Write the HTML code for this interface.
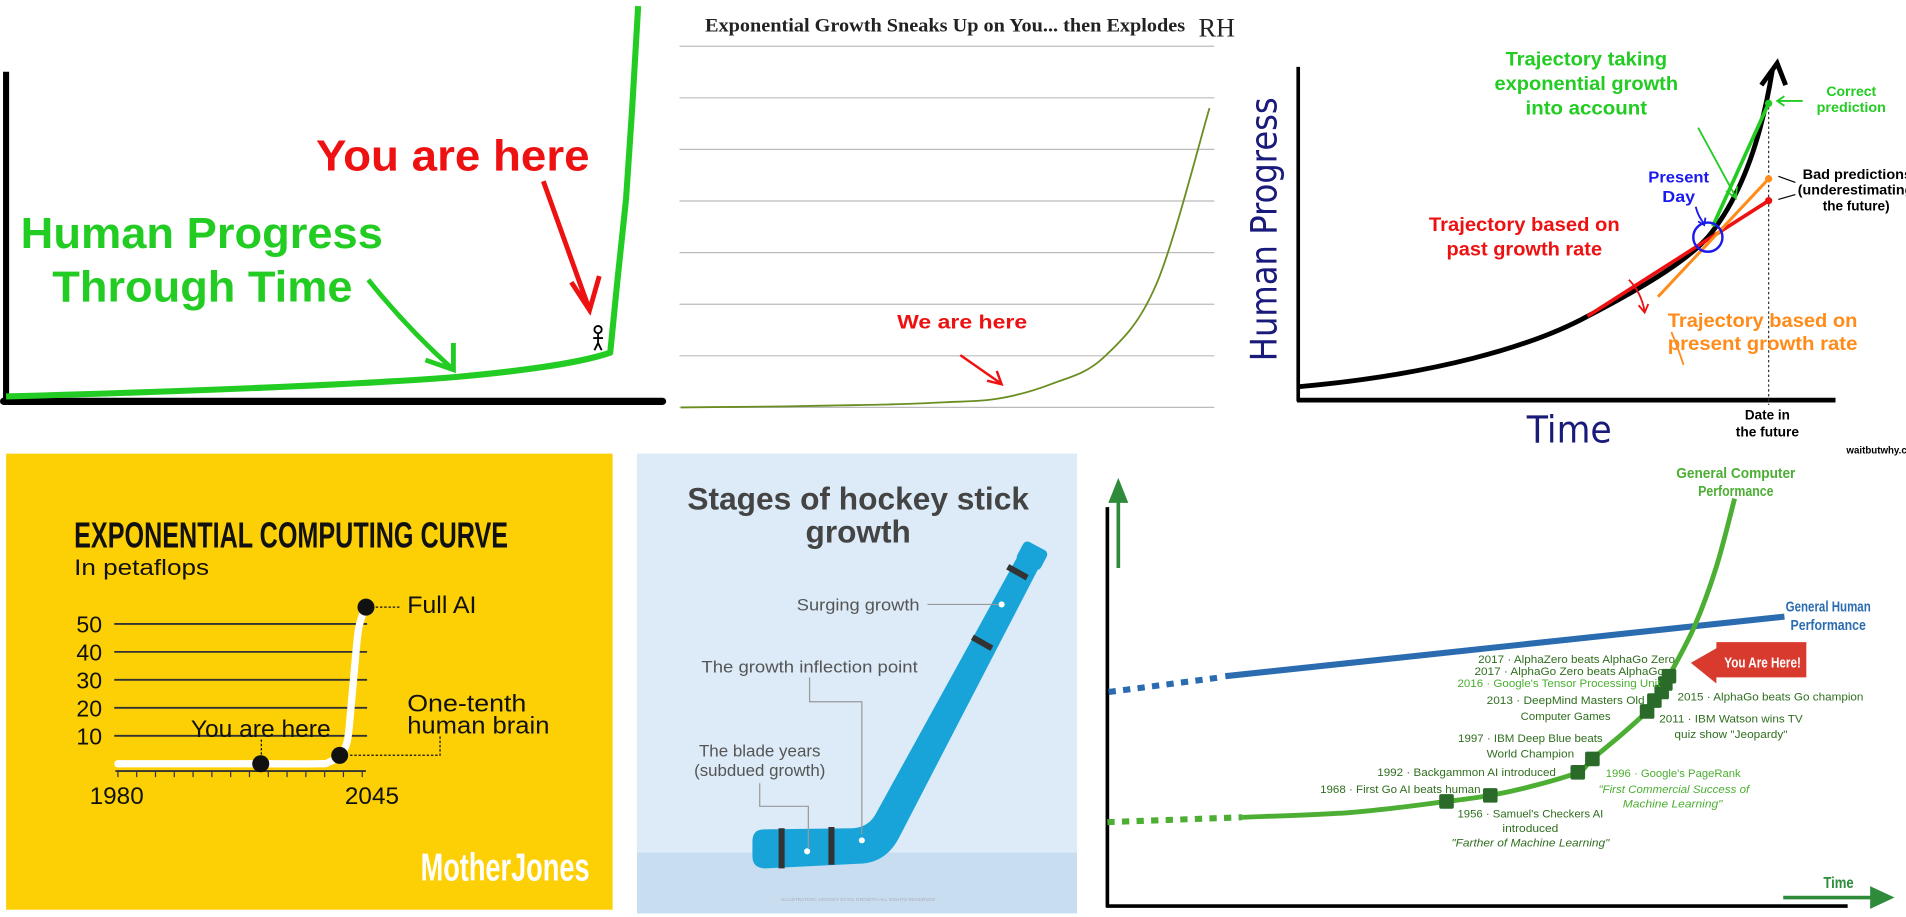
<!DOCTYPE html>
<html><head><meta charset="utf-8"><style>
html,body{margin:0;padding:0;background:#fff;width:1906px;height:917px;overflow:hidden}
svg{display:block;font-family:"Liberation Sans",sans-serif}
</style></head><body>
<svg id="main" width="1906" height="917" viewBox="0 0 1568 754" preserveAspectRatio="none" xmlns="http://www.w3.org/2000/svg">
<!-- Panel 1 -->
<g>
<line x1="5" y1="59" x2="5" y2="331" stroke="#000" stroke-width="5"/>
<line x1="3" y1="330" x2="545" y2="330" stroke="#000" stroke-width="6" stroke-linecap="round"/>
<path d="M5,326 C150,322 300,316 375,310 C430,305 475,299 502,290 L508,230 L515,164 L520,90 L525,5" fill="none" stroke="#22cc22" stroke-width="5" stroke-linejoin="round"/>
<text x="260" y="140" fill="#ee1111" font-size="36" font-weight="bold" textLength="225" lengthAdjust="spacingAndGlyphs">You are here</text>
<path d="M447,149 L485,255 M470,232 L485,255 L493,227" fill="none" stroke="#ee1111" stroke-width="4"/>
<text x="17" y="204" fill="#22cc22" font-size="36" font-weight="bold" textLength="298" lengthAdjust="spacingAndGlyphs">Human Progress</text>
<text x="43" y="248" fill="#22cc22" font-size="36" font-weight="bold" textLength="247" lengthAdjust="spacingAndGlyphs">Through Time</text>
<path d="M303,230 Q335,270 373,304 M350,296 L373,304 L373,282" fill="none" stroke="#22cc22" stroke-width="4"/>
<g stroke="#000" stroke-width="1.5" fill="none"><circle cx="492" cy="271" r="3"/><path d="M492,274 L492,282 M488,278 L496,278 M492,282 L489,288 M492,282 L495,288"/></g>
</g>
<!-- Panel 2 -->
<g>
<text x="580" y="26" font-family="Liberation Serif,serif" font-size="16" font-weight="bold" fill="#222" textLength="395" lengthAdjust="spacingAndGlyphs">Exponential Growth Sneaks Up on You... then Explodes</text>
<text x="986" y="30" font-family="Liberation Serif,serif" font-size="22" fill="#222" textLength="30" lengthAdjust="spacingAndGlyphs">RH</text>
<g id="p2grid"></g>
<path id="p2curve" fill="none" stroke="#6b8e23" stroke-width="1.5"/>
<text x="738" y="270" fill="#ee1111" font-size="16" font-weight="bold" textLength="107" lengthAdjust="spacingAndGlyphs">We are here</text>
<path d="M790,292 L823,315 M812,313 L824,316 L820,305" fill="none" stroke="#ee1111" stroke-width="2"/>
</g>
<!-- Panel 3 -->
<g>
<line x1="1068" y1="55" x2="1068" y2="330" stroke="#000" stroke-width="3"/>
<line x1="1067" y1="329" x2="1510" y2="329" stroke="#000" stroke-width="4"/>
<text transform="translate(1050,297) rotate(-90)" fill="#1a1a7a" font-family="DejaVu Sans,sans-serif" font-size="30" textLength="217" lengthAdjust="spacingAndGlyphs">Human Progress</text>
<text x="1256" y="364" fill="#1a1a7a" font-family="DejaVu Sans,sans-serif" font-size="31" textLength="70" lengthAdjust="spacingAndGlyphs">Time</text>
<line x1="1455" y1="88" x2="1455" y2="333" stroke="#333" stroke-width="1" stroke-dasharray="2,2"/>
<path d="M1068,318 C1180,308 1260,285 1306,260 C1360,232 1390,212 1405,195 C1430,165 1448,120 1458,58" fill="none" stroke="#000" stroke-width="4"/>
<path d="M1449,70 L1462,52 L1469,70" fill="none" stroke="#000" stroke-width="4"/>
<line x1="1409" y1="186" x2="1455" y2="85" stroke="#22cc22" stroke-width="3"/>
<line x1="1306" y1="260" x2="1455" y2="165" stroke="#ee1111" stroke-width="3"/>
<line x1="1364" y1="244" x2="1455" y2="147" stroke="#ff8c1a" stroke-width="2.5"/>
<circle cx="1405" cy="195" r="12" fill="none" stroke="#1a1aee" stroke-width="2"/>
<circle cx="1455" cy="85" r="3" fill="#22cc22"/>
<circle cx="1455" cy="147" r="3" fill="#ff8c1a"/>
<circle cx="1455" cy="165" r="3" fill="#ee1111"/>
<g font-weight="bold" text-anchor="middle">
<text x="1305" y="54" fill="#22cc22" font-size="16" textLength="133" lengthAdjust="spacingAndGlyphs">Trajectory taking</text>
<text x="1305" y="74" fill="#22cc22" font-size="16" textLength="151" lengthAdjust="spacingAndGlyphs">exponential growth</text>
<text x="1305" y="94" fill="#22cc22" font-size="16" textLength="100" lengthAdjust="spacingAndGlyphs">into account</text>
<text x="1523" y="79" fill="#22cc22" font-size="11" textLength="41" lengthAdjust="spacingAndGlyphs">Correct</text>
<text x="1523" y="92" fill="#22cc22" font-size="11" textLength="57" lengthAdjust="spacingAndGlyphs">prediction</text>
<text x="1381" y="150" fill="#1a1aee" font-size="13" textLength="50" lengthAdjust="spacingAndGlyphs">Present</text>
<text x="1381" y="166" fill="#1a1aee" font-size="13" textLength="27" lengthAdjust="spacingAndGlyphs">Day</text>
<text x="1483" y="147" text-anchor="start" fill="#000" font-size="11" textLength="90" lengthAdjust="spacingAndGlyphs">Bad predictions</text>
<text x="1479" y="160" text-anchor="start" fill="#000" font-size="11" textLength="95" lengthAdjust="spacingAndGlyphs">(underestimating</text>
<text x="1527" y="173" fill="#000" font-size="11" textLength="55" lengthAdjust="spacingAndGlyphs">the future)</text>
<text x="1254" y="190" fill="#ee1111" font-size="16" textLength="157" lengthAdjust="spacingAndGlyphs">Trajectory based on</text>
<text x="1254" y="210" fill="#ee1111" font-size="16" textLength="128" lengthAdjust="spacingAndGlyphs">past growth rate</text>
<text x="1450" y="269" fill="#ff8c1a" font-size="16" textLength="156" lengthAdjust="spacingAndGlyphs">Trajectory based on</text>
<text x="1450" y="288" fill="#ff8c1a" font-size="16" textLength="156" lengthAdjust="spacingAndGlyphs">present growth rate</text>
<text x="1454" y="345" fill="#000" font-size="11" textLength="37" lengthAdjust="spacingAndGlyphs">Date in</text>
<text x="1454" y="359" fill="#000" font-size="11" textLength="52" lengthAdjust="spacingAndGlyphs">the future</text>
<text x="1519" y="373" text-anchor="start" fill="#000" font-size="8">waitbutwhy.com</text>
</g>
<path d="M1397,105 L1428,162 M1420,157 L1428,163 L1429,153" fill="none" stroke="#22cc22" stroke-width="1.5"/>
<path d="M1483,83 L1463,83 M1468,79 L1462,83 L1468,87" fill="none" stroke="#22cc22" stroke-width="1.5"/>
<path d="M1395,170 Q1397,178 1402,184 M1397,182 L1402,185 L1403,179" fill="none" stroke="#1a1aee" stroke-width="1.5"/>
<path d="M1340,230 Q1350,240 1353,256 M1348,251 L1353,257 L1356,250" fill="none" stroke="#ee1111" stroke-width="1.5"/>
<path d="M1385,300 Q1380,285 1375,273" fill="none" stroke="#ff8c1a" stroke-width="1.5"/>
<path d="M1477,150 L1463,145 M1477,160 L1463,164" stroke="#000" stroke-width="1"/>
</g>
<!-- Panel 4 -->
<g>
<rect x="5" y="373" width="499" height="375" fill="#fdd005"/>
<text x="61" y="450" font-size="30" font-weight="bold" fill="#111" textLength="357" lengthAdjust="spacingAndGlyphs">EXPONENTIAL COMPUTING CURVE</text>
<text x="61" y="473" font-size="18" fill="#111" textLength="111" lengthAdjust="spacingAndGlyphs">In petaflops</text>
<g id="p4"></g>
<text x="335" y="504" font-size="20" fill="#111" textLength="57" lengthAdjust="spacingAndGlyphs">Full AI</text>
<text x="335" y="585" font-size="20" fill="#111" textLength="98" lengthAdjust="spacingAndGlyphs">One-tenth</text>
<text x="335" y="603" font-size="20" fill="#111" textLength="117" lengthAdjust="spacingAndGlyphs">human brain</text>
<text x="157" y="606" font-size="20" fill="#111" textLength="115" lengthAdjust="spacingAndGlyphs">You are here</text>
<text x="346" y="724" font-size="32" font-weight="bold" fill="#fff" textLength="139" lengthAdjust="spacingAndGlyphs">MotherJones</text>
</g>
<!-- Panel 5 -->
<g>
<rect x="524" y="373" width="362" height="378" fill="#dcebf7"/>
<rect x="524" y="701" width="362" height="50" fill="#c8def0"/>
<text x="706" y="419" text-anchor="middle" font-size="26" font-weight="bold" fill="#444" textLength="281" lengthAdjust="spacingAndGlyphs">Stages of hockey stick</text>
<text x="706" y="446" text-anchor="middle" font-size="26" font-weight="bold" fill="#444">growth</text>
<g fill="#18a4d8">
<path d="M628,682 L702,681 Q714,680 720,670 L838,456 L855,466 L740,688 Q730,708 710,710 L630,714 Q619,714 619,704 L619,692 Q619,682 628,682 Z"/>
<rect x="838" y="448" width="22" height="18" rx="4" transform="rotate(28 849 457)"/>
</g>
<path d="M829,466 L845,475 M800,524 L816,533 M643,681 L643,714 M684,680 L684,711" stroke="#333" stroke-width="5"/>
<circle cx="824" cy="497" r="2.5" fill="#fff"/><circle cx="709" cy="691" r="2.5" fill="#fff"/><circle cx="664" cy="700" r="2.5" fill="#fff"/>
<g font-size="14" fill="#555" text-anchor="middle">
<text x="706" y="502" textLength="101" lengthAdjust="spacingAndGlyphs">Surging growth</text>
<text x="666" y="553" textLength="178" lengthAdjust="spacingAndGlyphs">The growth inflection point</text>
<text x="625" y="622" textLength="100" lengthAdjust="spacingAndGlyphs">The blade years</text>
<text x="625" y="638" textLength="108" lengthAdjust="spacingAndGlyphs">(subdued growth)</text>
</g>
<path d="M763,497 L821,497 M666,557 L666,577 L709,577 L709,686 M625,644 L625,663 L665,663 L665,697" fill="none" stroke="#999" stroke-width="1"/>
<text x="706" y="741" text-anchor="middle" font-size="4" fill="#aab">ILLUSTRATION: HOCKEY STICK GROWTH ALL RIGHTS RESERVED</text>
</g>
<!-- Panel 6 -->
<g>
<line x1="911" y1="417" x2="911" y2="746" stroke="#000" stroke-width="3"/>
<line x1="910" y1="745" x2="1520" y2="745" stroke="#000" stroke-width="3"/>
<path d="M920,467 L920,410 M914,412 L920,397 L926,412 Z" stroke="#2e8b3a" stroke-width="3" fill="#2e8b3a"/>
<path d="M1467,738 L1543,738 M1540,731 L1555,738 L1540,745 Z" stroke="#2e8b3a" stroke-width="3" fill="#2e8b3a"/>
<text x="1500" y="730" font-size="13" font-weight="bold" fill="#2e8b3a" textLength="25" lengthAdjust="spacingAndGlyphs">Time</text>
<line x1="912" y1="569" x2="1004" y2="557" stroke="#2b6cb0" stroke-width="5" stroke-dasharray="6,6"/>
<line x1="1008" y1="556" x2="1468" y2="507" stroke="#2b6cb0" stroke-width="5"/>
<text x="1504" y="503" text-anchor="middle" font-size="12" font-weight="bold" fill="#2b6cb0" textLength="70" lengthAdjust="spacingAndGlyphs">General Human</text>
<text x="1504" y="518" text-anchor="middle" font-size="12" font-weight="bold" fill="#2b6cb0" textLength="62" lengthAdjust="spacingAndGlyphs">Performance</text>
<path id="p6dots" fill="none" stroke="#4cae32" stroke-width="5" stroke-dasharray="6,6"/>
<path id="p6curve" fill="none" stroke="#4cae32" stroke-width="4"/>
<text x="1428" y="393" text-anchor="middle" font-size="12" font-weight="bold" fill="#4cae32" textLength="98" lengthAdjust="spacingAndGlyphs">General Computer</text>
<text x="1428" y="408" text-anchor="middle" font-size="12" font-weight="bold" fill="#4cae32" textLength="62" lengthAdjust="spacingAndGlyphs">Performance</text>
<g id="p6marks"></g>
<path d="M1412,533 L1412,528 L1486,528 L1486,557 L1412,557 L1412,562 L1391,545 Z" fill="#d93a2e"/>
<text x="1450" y="549" text-anchor="middle" font-size="12" font-weight="bold" fill="#fff" textLength="63" lengthAdjust="spacingAndGlyphs">You Are Here!</text>
<g font-size="9" fill="#2f6e1f">
<text x="1216" y="545" textLength="162" lengthAdjust="spacingAndGlyphs">2017 · AlphaZero beats AlphaGo Zero</text>
<text x="1213" y="555" textLength="156" lengthAdjust="spacingAndGlyphs">2017 · AlphaGo Zero beats AlphaGo</text>
<text x="1199" y="565" fill="#4cae32" textLength="167" lengthAdjust="spacingAndGlyphs">2016 · Google's Tensor Processing Unit</text>
<text x="1223" y="579" textLength="130" lengthAdjust="spacingAndGlyphs">2013 · DeepMind Masters Old</text>
<text x="1288" y="592" text-anchor="middle" textLength="74" lengthAdjust="spacingAndGlyphs">Computer Games</text>
<text x="1380" y="576" textLength="153" lengthAdjust="spacingAndGlyphs">2015 · AlphaGo beats Go champion</text>
<text x="1365" y="594" textLength="118" lengthAdjust="spacingAndGlyphs">2011 · IBM Watson wins TV</text>
<text x="1424" y="607" text-anchor="middle" textLength="93" lengthAdjust="spacingAndGlyphs">quiz show "Jeopardy"</text>
<text x="1259" y="610" text-anchor="middle" textLength="119" lengthAdjust="spacingAndGlyphs">1997 · IBM Deep Blue beats</text>
<text x="1259" y="623" text-anchor="middle" textLength="72" lengthAdjust="spacingAndGlyphs">World Champion</text>
<text x="1133" y="638" textLength="147" lengthAdjust="spacingAndGlyphs">1992 · Backgammon AI introduced</text>
<text x="1321" y="639" fill="#4cae32" textLength="111" lengthAdjust="spacingAndGlyphs">1996 · Google's PageRank</text>
<text x="1377" y="652" text-anchor="middle" fill="#4cae32" font-style="italic" textLength="124" lengthAdjust="spacingAndGlyphs">"First Commercial Success of</text>
<text x="1376" y="664" text-anchor="middle" fill="#4cae32" font-style="italic" textLength="82" lengthAdjust="spacingAndGlyphs">Machine Learning"</text>
<text x="1086" y="652" textLength="132" lengthAdjust="spacingAndGlyphs">1968 · First Go AI beats human</text>
<text x="1259" y="672" text-anchor="middle" textLength="120" lengthAdjust="spacingAndGlyphs">1956 · Samuel's Checkers AI</text>
<text x="1259" y="684" text-anchor="middle" textLength="46" lengthAdjust="spacingAndGlyphs">introduced</text>
<text x="1259" y="696" text-anchor="middle" font-style="italic" textLength="130" lengthAdjust="spacingAndGlyphs">"Farther of Machine Learning"</text>
</g>
</g>
</svg>
<script>
// Panel 2 data
const p2Periods = [0,1,2,3,4,5,6,7,8,9,10];
const p2Values = [0,0.01,0.02,0.04,0.06,0.1,0.17,0.45,0.97,2.4,5.8];
const p2GridTicks = [0,1,2,3,4,5,6,7];
// Panel 4 data
const p4Ticks = [10,20,30,40,50];
const p4Years = [1980,1985,1990,1995,2000,2005,2010,2015,2020,2025,2030,2035,2040,2045];
const p4CurveYears = [1980,2015,2033,2036,2039,2041,2042,2043,2044,2045.5];
const p4CurveValues = [0,0,0,0.5,3,8,20,35,48,55];
const p4Dots = [[2018,0],[2039,3],[2046,56]];
// Panel 6 data
const p6Years = [1900,1930,1956,1968,1980,1992,1996,2004,2011,2013,2015,2016,2017,2024,2030,2035];
const p6Values = [4,8,17,22,30,41,52,72,91,100,107,114,120,161,210,266];
const p6DottedYears = [1863,1900];
const p6DottedValues = [0,4];
const p6MilestoneYears = [1956,1968,1992,1996,2011,2013,2015,2016,2017];

const NS="http://www.w3.org/2000/svg";
function mk(tag,attrs,parent){const e=document.createElementNS(NS,tag);for(const k in attrs)e.setAttribute(k,attrs[k]);parent.appendChild(e);return e;}
function smooth(pts){let d='M'+pts[0][0]+','+pts[0][1];for(let i=0;i<pts.length-1;i++){const p0=pts[Math.max(0,i-1)],p1=pts[i],p2=pts[i+1],p3=pts[Math.min(pts.length-1,i+2)];
const c1=[p1[0]+(p2[0]-p0[0])/6,p1[1]+(p2[1]-p0[1])/6],c2=[p2[0]-(p3[0]-p1[0])/6,p2[1]-(p3[1]-p1[1])/6];
d+=' C'+c1[0]+','+c1[1]+' '+c2[0]+','+c2[1]+' '+p2[0]+','+p2[1];}return d;}

// Panel 2
const p2x=t=>560+t*(995-560)/10, p2y=v=>335-v*(335-38)/7;
const g2=document.getElementById('p2grid');
p2GridTicks.forEach(t=>{const l=mk('line',{x1:559,x2:999,y1:p2y(t),y2:p2y(t),stroke:'#bbb','stroke-width':1},g2);

});
document.getElementById('p2curve').setAttribute('d',smooth(p2Periods.map((t,i)=>[p2x(t),p2y(p2Values[i])])));

// Panel 4
const g4=document.getElementById('p4');
const p4x=y=>97+(y-1980)*(298-97)/65, p4y=v=>628-v*(628-513)/50;
p4Ticks.forEach(t=>{const l=mk('line',{x1:94,x2:302,y1:p4y(t),y2:p4y(t),stroke:'#333','stroke-width':1.5},g4);


const tx=mk('text',{x:84,y:p4y(t)+7,'text-anchor':'end','font-size':19,fill:'#111'},g4);tx.textContent=t;

});
mk('line',{x1:95,x2:301,y1:634,y2:634,stroke:'#333','stroke-width':1.5},g4);
p4Years.forEach(y=>{const l=mk('line',{x1:p4x(y),x2:p4x(y),y1:634,y2:639,stroke:'#333','stroke-width':1},g4);

});
[[1980,96],[2045,306]].forEach(([y,x])=>{const t=mk('text',{x:x,y:661,'text-anchor':'middle','font-size':20,fill:'#111'},g4);t.textContent=y;

});
mk('path',{d:'M'+(p4x(2046)+8)+','+p4y(56)+' L330,'+p4y(56)+' M288,621 L362,621 L362,604 M215,624 L215,608',fill:'none',stroke:'#111','stroke-width':1,'stroke-dasharray':'2,1.5'},g4);
const c4=mk('path',{d:smooth(p4CurveYears.map((y,i)=>[p4x(y),p4y(p4CurveValues[i])])),fill:'none',stroke:'#fff','stroke-width':6,'stroke-linejoin':'round','stroke-linecap':'round'},g4);


p4Dots.forEach(([y,v])=>{const c=mk('circle',{cx:p4x(y),cy:p4y(v),r:7,fill:'#111'},g4);

});

// Panel 6
const p6x=y=>1190+(y-1956)*3.0;
const p6y=v=>676-v;
function p6val(y){for(let i=1;i<p6Years.length;i++){if(y<=p6Years[i]){const a=p6Years[i-1],b=p6Years[i];const f=(y-a)/(b-a);return p6Values[i-1]+f*(p6Values[i]-p6Values[i-1]);}}return p6Values[p6Values.length-1];}
document.getElementById('p6curve').setAttribute('d',smooth(p6Years.map((y,i)=>[p6x(y),p6y(p6Values[i])])));
document.getElementById('p6dots').setAttribute('d',p6DottedYears.map((y,i)=>(i?'L':'M')+p6x(y)+','+p6y(p6DottedValues[i])).join(' '));
const g6=document.getElementById('p6marks');
p6MilestoneYears.forEach(y=>{const r=mk('rect',{x:p6x(y)-6,y:p6y(p6val(y))-6,width:12,height:12,rx:1.5,fill:'#2a6b2a'},g6);

});
</script>
</body></html>
